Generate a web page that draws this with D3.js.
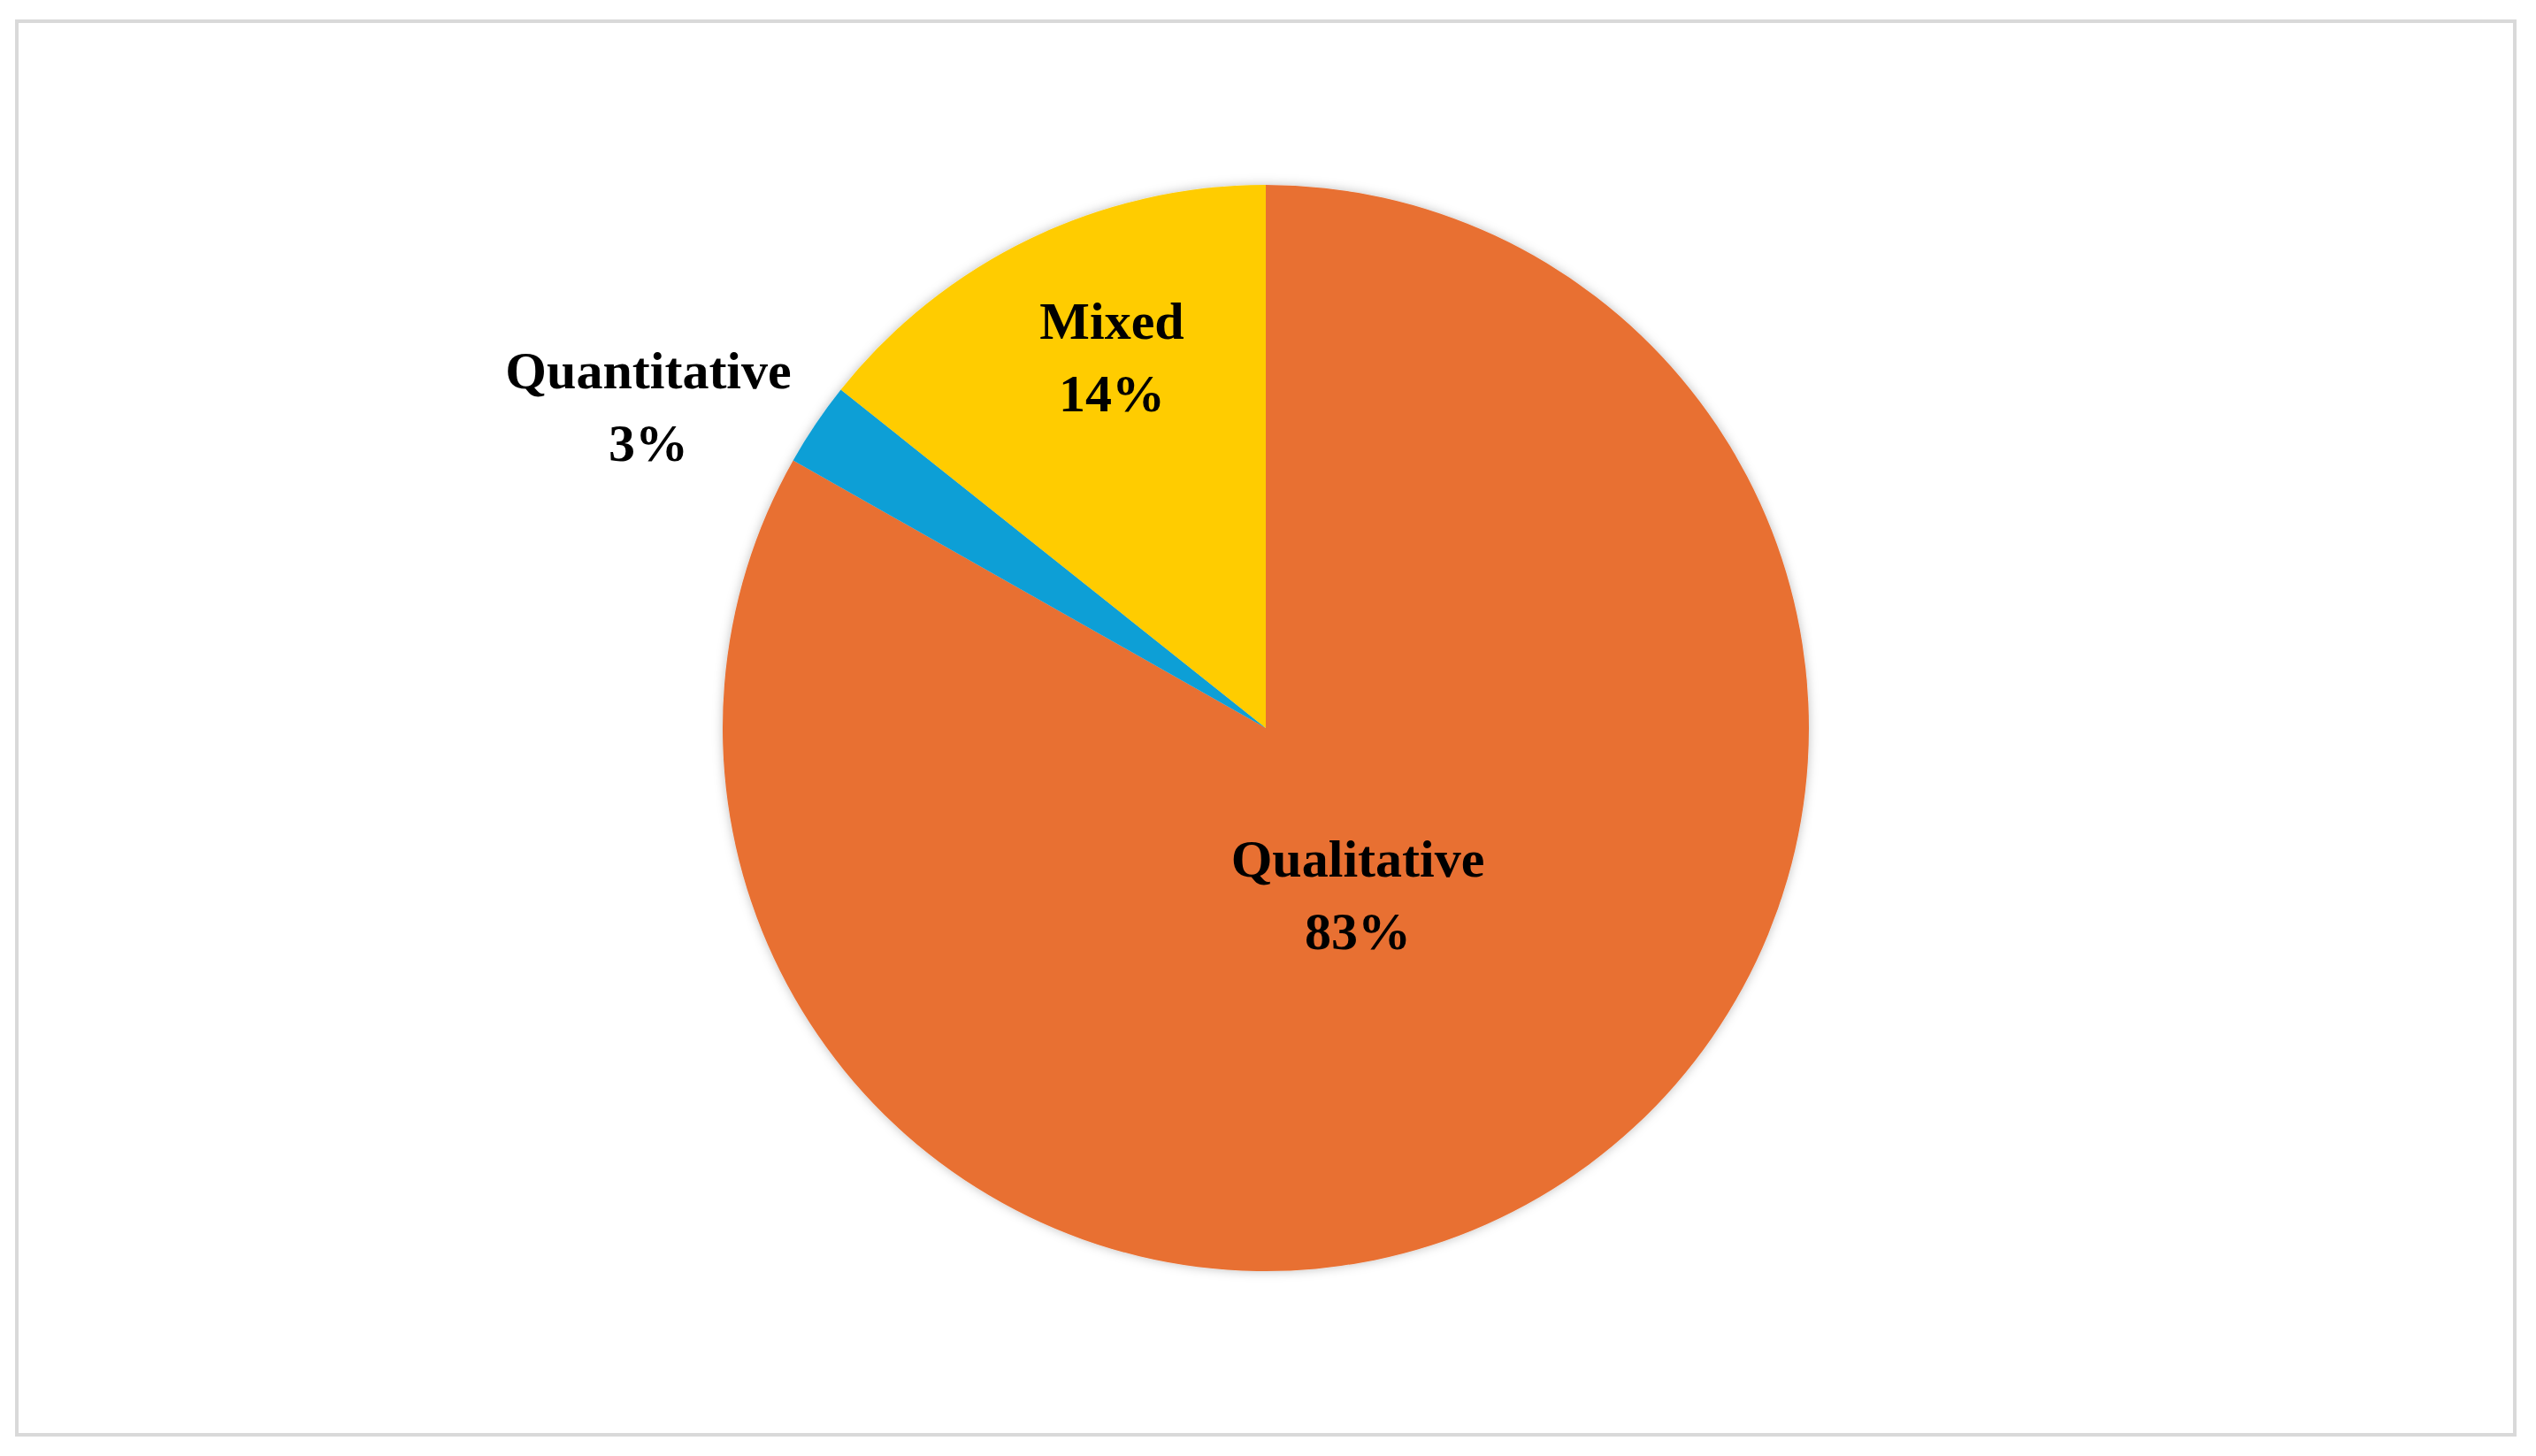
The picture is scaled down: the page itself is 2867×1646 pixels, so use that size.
<!DOCTYPE html>
<html>
<head>
<meta charset="utf-8">
<script src="https://cdn.jsdelivr.net/npm/d3@7"></script>
<style>
  body { margin: 0; background: #fff; }
  text { font-family: "Liberation Serif", "DejaVu Serif", serif; font-weight: bold; fill: #000; }
</style>
</head>
<body>
<div id="chart"></div>
<script>
// Data (clockwise from 12 o'clock)
var categories = ["Qualitative", "Quantitative", "Mixed"];
var values = [83.2, 2.5, 14.3];
var labels = ["83%", "3%", "14%"];
var colors = ["#E87033", "#109FD6", "#FFCC00"];

var svgWidth = 2867, svgHeight = 1646;
var cx = 1431, cy = 823, radius = 614;

var svg = d3.select("#chart").append("svg")
    .attr("width", svgWidth)
    .attr("height", svgHeight);

// Outer frame
svg.append("rect")
    .attr("x", 19).attr("y", 24)
    .attr("width", 2824).attr("height", 1598)
    .attr("fill", "none")
    .attr("stroke", "#d9d9d9")
    .attr("stroke-width", 4);

var defs = svg.append("defs");
var filter = defs.append("filter").attr("id", "shadow")
    .attr("x", "-10%").attr("y", "-10%").attr("width", "120%").attr("height", "120%");
filter.append("feDropShadow")
    .attr("dx", 0).attr("dy", 0).attr("stdDeviation", 6)
    .attr("flood-color", "#000").attr("flood-opacity", 0.25);

var pie = d3.pie().sort(null).value(d => d);
var arc = d3.arc().innerRadius(0).outerRadius(radius);

var g = svg.append("g")
    .attr("transform", `translate(${cx}, ${cy})`)
    .attr("filter", "url(#shadow)");

g.selectAll("path")
    .data(pie(values))
    .enter()
    .append("path")
    .attr("d", arc)
    .attr("fill", (d, i) => colors[i]);

// Label positions (name line centre, relative to the pie centre)
var labelPos = [[104, 168], [-698, -384], [-174, -440]];
var fontSize = 60;

var lg = svg.append("g").attr("transform", `translate(${cx}, ${cy})`);
categories.forEach(function(c, i) {
    var t = lg.append("text")
        .attr("text-anchor", "middle")
        .attr("font-size", fontSize);
    t.append("tspan").attr("x", labelPos[i][0]).attr("y", labelPos[i][1]).text(c);
    t.append("tspan").attr("x", labelPos[i][0]).attr("y", labelPos[i][1] + 82).text(labels[i]);
});
</script>
</body>
</html>
